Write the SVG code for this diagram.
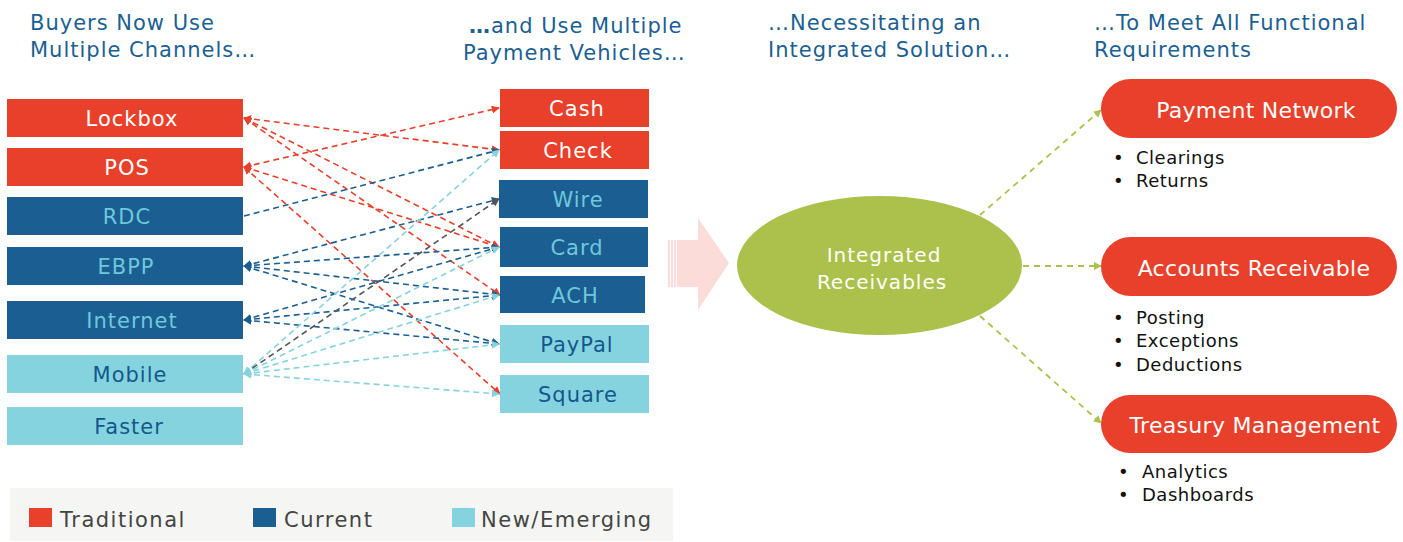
<svg xmlns="http://www.w3.org/2000/svg" width="1403" height="542" viewBox="0 0 1403 542">
<style>
text{font-family:"DejaVu Sans","Open Sans",sans-serif}
.hd{font-size:21px;fill:#1c5f93;letter-spacing:1px}
.bx{font-size:21px;text-anchor:middle;letter-spacing:1px}
.tw{fill:#ffffff}
.tl{fill:#6ec8dc}
.td{fill:#14578c}
.red{fill:#e8402a}
.dark{fill:#1b5e91}
.light{fill:#85d3df}
.ln{fill:none;stroke-width:1.6;stroke-dasharray:6 4}
.lr{stroke:#e8402a;marker-end:url(#ar);marker-start:url(#ar)}
.ld{stroke:#1b5e91;marker-end:url(#ad);marker-start:url(#ad)}
.ldn{stroke:#1b5e91;marker-end:url(#ad)}
.ll{stroke:#85d3df;marker-end:url(#al);marker-start:url(#al)}
.lg{stroke:#555555;marker-end:url(#ag)}
.gr{fill:none;stroke:#abc14b;stroke-width:1.8;stroke-dasharray:6 5;marker-end:url(#agr)}
.pt{font-size:22px;fill:#ffffff;text-anchor:middle;letter-spacing:0.3px}
.bl{font-size:18px;fill:#111111;letter-spacing:0.5px}
.lg2{font-size:21px;fill:#444444;letter-spacing:1.5px}
</style>
<defs>
<marker id="ar" viewBox="0 0 10 10" refX="9" refY="5" markerWidth="8" markerHeight="8" markerUnits="userSpaceOnUse" orient="auto-start-reverse"><path d="M0,0 L10,5 L0,10 z" fill="#e8402a"/></marker>
<marker id="ad" viewBox="0 0 10 10" refX="9" refY="5" markerWidth="8" markerHeight="8" markerUnits="userSpaceOnUse" orient="auto-start-reverse"><path d="M0,0 L10,5 L0,10 z" fill="#1b5e91"/></marker>
<marker id="al" viewBox="0 0 10 10" refX="9" refY="5" markerWidth="8" markerHeight="8" markerUnits="userSpaceOnUse" orient="auto-start-reverse"><path d="M0,0 L10,5 L0,10 z" fill="#85d3df"/></marker>
<marker id="ag" viewBox="0 0 10 10" refX="9" refY="5" markerWidth="8" markerHeight="8" markerUnits="userSpaceOnUse" orient="auto"><path d="M0,0 L10,5 L0,10 z" fill="#555555"/></marker>
<marker id="agr" viewBox="0 0 10 10" refX="9" refY="5" markerWidth="8" markerHeight="8" markerUnits="userSpaceOnUse" orient="auto"><path d="M0,0 L10,5 L0,10 z" fill="#abc14b"/></marker>
</defs>
<rect width="1403" height="542" fill="#ffffff"/>

<g id="headers">
<text class="hd" x="30" y="30">Buyers Now Use</text>
<text class="hd" x="30" y="57">Multiple Channels…</text>
<text class="hd" x="469" y="33"><tspan font-weight="bold">…</tspan>and Use Multiple</text>
<text class="hd" x="463" y="60">Payment Vehicles…</text>
<text class="hd" x="768" y="30">…Necessitating an</text>
<text class="hd" x="768" y="57">Integrated Solution…</text>
<text class="hd" x="1094" y="30">…To Meet All Functional</text>
<text class="hd" x="1094" y="57">Requirements</text>
</g>

<g id="connectors">
<line class="ln lr" x1="244" y1="118" x2="499" y2="150"/>
<line class="ln lr" x1="244" y1="118" x2="499" y2="247"/>
<line class="ln lr" x1="244" y1="118" x2="500" y2="295"/>
<line class="ln lr" x1="244" y1="167" x2="499" y2="108"/>
<line class="ln lr" x1="244" y1="167" x2="499" y2="247"/>
<line class="ln lr" x1="244" y1="167" x2="500" y2="394"/>
<line class="ln ldn" x1="244" y1="216" x2="499" y2="150"/>
<line class="ln ld" x1="244" y1="266" x2="499" y2="199"/>
<line class="ln ld" x1="244" y1="266" x2="499" y2="247"/>
<line class="ln ld" x1="244" y1="266" x2="499" y2="295"/>
<line class="ln ld" x1="244" y1="266" x2="499" y2="344"/>
<line class="ln ld" x1="244" y1="320" x2="499" y2="247"/>
<line class="ln ld" x1="244" y1="320" x2="499" y2="295"/>
<line class="ln ld" x1="244" y1="320" x2="499" y2="344"/>
<line class="ln ll" x1="244" y1="374" x2="499" y2="150"/>
<line class="ln lg" x1="244" y1="374" x2="499" y2="199"/>
<line class="ln ll" x1="244" y1="374" x2="499" y2="247"/>
<line class="ln ll" x1="244" y1="374" x2="499" y2="295"/>
<line class="ln ll" x1="244" y1="374" x2="499" y2="344"/>
<line class="ln ll" x1="244" y1="374" x2="499" y2="394"/>
<line class="gr" x1="980" y1="215" x2="1101" y2="110"/>
<line class="gr" x1="1023" y1="266" x2="1101" y2="266"/>
<line class="gr" x1="980" y1="316" x2="1101" y2="423"/>
</g>

<g id="channel-lockbox"><rect class="red" x="7" y="99" width="236" height="38"/><text class="bx tw" x="132" y="126">Lockbox</text></g>
<g id="channel-pos"><rect class="red" x="7" y="148" width="236" height="38"/><text class="bx tw" x="127" y="175">POS</text></g>
<g id="channel-rdc"><rect class="dark" x="7" y="197" width="236" height="38"/><text class="bx tl" x="127" y="224">RDC</text></g>
<g id="channel-ebpp"><rect class="dark" x="7" y="247" width="236" height="38"/><text class="bx tl" x="126" y="274">EBPP</text></g>
<g id="channel-internet"><rect class="dark" x="7" y="301" width="236" height="38"/><text class="bx tl" x="132" y="328">Internet</text></g>
<g id="channel-mobile"><rect class="light" x="7" y="355" width="236" height="38"/><text class="bx td" x="130" y="382">Mobile</text></g>
<g id="channel-faster"><rect class="light" x="7" y="407" width="236" height="38"/><text class="bx td" x="129" y="434">Faster</text></g>

<g id="pay-cash"><rect class="red" x="500" y="89" width="149" height="38"/><text class="bx tw" x="577" y="116">Cash</text></g>
<g id="pay-check"><rect class="red" x="500" y="131" width="149" height="38"/><text class="bx tw" x="578" y="158">Check</text></g>
<g id="pay-wire"><rect class="dark" x="499" y="180" width="149" height="38"/><text class="bx tl" x="578" y="207">Wire</text></g>
<g id="pay-card"><rect class="dark" x="500" y="227" width="148" height="40"/><text class="bx tl" x="577" y="255">Card</text></g>
<g id="pay-ach"><rect class="dark" x="500" y="276" width="145" height="37"/><text class="bx tl" x="575" y="303">ACH</text></g>
<g id="pay-paypal"><rect class="light" x="500" y="325" width="149" height="38"/><text class="bx td" x="577" y="352">PayPal</text></g>
<g id="pay-square"><rect class="light" x="500" y="375" width="149" height="38"/><text class="bx td" x="578" y="402">Square</text></g>

<g id="big-arrow">
<path d="M668,240 L698,240 L698,218 L729,263 L698,310 L698,287 L668,287 z" fill="#fbdcd9"/>
<line x1="670.5" y1="240" x2="670.5" y2="287" stroke="#ffffff" stroke-width="1"/>
<line x1="673.5" y1="240" x2="673.5" y2="287" stroke="#ffffff" stroke-width="1"/>
<line x1="676.5" y1="240" x2="676.5" y2="287" stroke="#ffffff" stroke-width="1"/>
</g>

<g id="integrated-receivables">
<ellipse cx="879.5" cy="265.5" rx="142.5" ry="69.5" fill="#abc14b"/>
<text x="884" y="262" font-size="20" fill="#ffffff" text-anchor="middle" letter-spacing="1">Integrated</text>
<text x="882" y="289" font-size="20" fill="#ffffff" text-anchor="middle" letter-spacing="1">Receivables</text>
</g>

<g id="payment-network">
<rect class="red" x="1101" y="79" width="296" height="59" rx="29.5"/>
<text class="pt" x="1256" y="118">Payment Network</text>
<text class="bl" x="1113" y="164">•</text><text class="bl" x="1136" y="164">Clearings</text>
<text class="bl" x="1113" y="187">•</text><text class="bl" x="1136" y="187">Returns</text>
</g>
<g id="accounts-receivable">
<rect class="red" x="1101" y="237" width="296" height="59" rx="29.5"/>
<text class="pt" x="1254" y="276">Accounts Receivable</text>
<text class="bl" x="1113" y="324">•</text><text class="bl" x="1136" y="324">Posting</text>
<text class="bl" x="1113" y="347">•</text><text class="bl" x="1136" y="347">Exceptions</text>
<text class="bl" x="1113" y="371">•</text><text class="bl" x="1136" y="371">Deductions</text>
</g>
<g id="treasury-management">
<rect class="red" x="1101" y="395" width="296" height="58" rx="29"/>
<text class="pt" x="1255" y="433">Treasury Management</text>
<text class="bl" x="1118" y="478">•</text><text class="bl" x="1142" y="478">Analytics</text>
<text class="bl" x="1118" y="501">•</text><text class="bl" x="1142" y="501">Dashboards</text>
</g>

<g id="legend">
<rect x="10" y="488" width="663" height="53" fill="#f5f5f3"/>
<rect class="red" x="29" y="508" width="23" height="19"/>
<text class="lg2" x="60" y="527">Traditional</text>
<rect class="dark" x="253" y="508" width="23" height="19"/>
<text class="lg2" x="284" y="527">Current</text>
<rect class="light" x="452" y="508" width="23" height="19"/>
<text class="lg2" x="481" y="527">New/Emerging</text>
</g>
</svg>
